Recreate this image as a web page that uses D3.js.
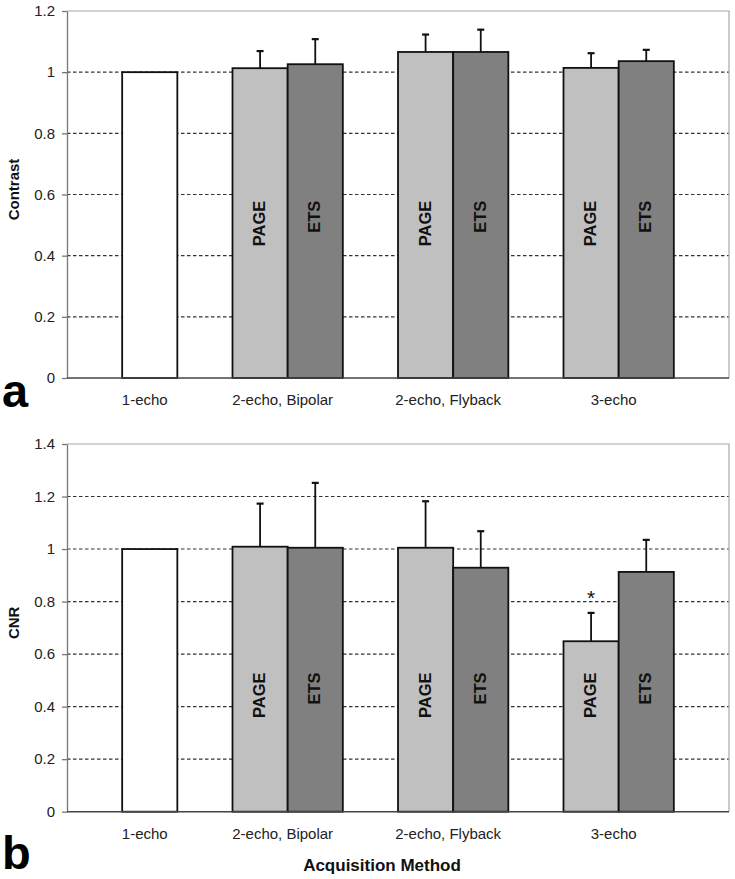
<!DOCTYPE html>
<html><head><meta charset="utf-8">
<script src="https://cdn.jsdelivr.net/npm/d3@7"></script>
<style>
html,body{margin:0;padding:0;background:#fff;}
svg{display:block;font-family:Arial,"Liberation Sans",sans-serif;}
</style></head>
<body>
<svg id="chart" width="735" height="879"></svg>
<script>
// ---- data ----
const categories = ["1-echo", "2-echo, Bipolar", "2-echo, Flyback", "3-echo"];
const methods = ["PAGE", "ETS"];
const refValue = 1.0; // 1-echo reference (both panels)
const contrastPAGE = [1.013, 1.066, 1.014];
const contrastPAGEErr = [0.056, 0.057, 0.048];
const contrastETS = [1.026, 1.066, 1.036];
const contrastETSErr = [0.082, 0.073, 0.037];
const cnrPAGE = [1.009, 1.005, 0.649];
const cnrPAGEErr = [0.164, 0.177, 0.108];
const cnrETS = [1.005, 0.929, 0.913];
const cnrETSErr = [0.247, 0.139, 0.122];
const cnrPAGESig = [false, false, true];
const contrastTicks = [0, 0.2, 0.4, 0.6, 0.8, 1, 1.2];
const cnrTicks = [0, 0.2, 0.4, 0.6, 0.8, 1, 1.2, 1.4];

const svg = d3.select("#chart");
const left = 67, right = 729;
const x = d3.scaleLinear().domain([0, 12]).range([left, right]);
const slotW = x(1) - x(0);
const colors = {ref: "#ffffff", PAGE: "#c0c0c0", ETS: "#808080"};
const fmt = d => String(+d.toFixed(1));

function panel(opts) {
  const {top, bottom, yMax, ticks, title, page, pageErr, ets, etsErr, sig, letter, letterY, labelAt} = opts;
  const y = d3.scaleLinear().domain([0, yMax]).range([bottom, top]);
  const g = svg.append("g");

  // grid lines
  g.selectAll(".grid").data(ticks.filter(t => t > 0 && t < yMax)).enter()
    .append("line").attr("x1", left).attr("x2", right)
    .attr("y1", d => y(d)).attr("y2", d => y(d))
    .attr("stroke", "#333").attr("stroke-width", 1.1).attr("stroke-dasharray", "3.5,2.5");
  // top/right frame
  g.append("path").attr("d", `M${left},${y(yMax)}H${right}V${bottom}`)
    .attr("fill", "none").attr("stroke", "#a8a8a8").attr("stroke-width", 1.2);

  // bars
  const bars = [{slot: 1, v: refValue, e: null, c: colors.ref}];
  page.forEach((v, i) => {
    bars.push({slot: 3 * (i + 1), v, e: pageErr[i], c: colors.PAGE, label: methods[0], sig: sig ? sig[i] : false});
    bars.push({slot: 3 * (i + 1) + 1, v: ets[i], e: etsErr[i], c: colors.ETS, label: methods[1]});
  });
  g.selectAll(".bar").data(bars).enter().append("rect")
    .attr("x", d => x(d.slot)).attr("width", slotW)
    .attr("y", d => y(d.v)).attr("height", d => y(0) - y(d.v))
    .attr("fill", d => d.c).attr("stroke", "#111").attr("stroke-width", 1.8);

  // error bars
  const eb = bars.filter(d => d.e != null);
  g.selectAll(".eline").data(eb).enter().append("line")
    .attr("x1", d => x(d.slot + 0.5)).attr("x2", d => x(d.slot + 0.5))
    .attr("y1", d => y(d.v)).attr("y2", d => y(d.v + d.e))
    .attr("stroke", "#111").attr("stroke-width", 1.8);
  g.selectAll(".ecap").data(eb).enter().append("line")
    .attr("x1", d => x(d.slot + 0.5) - 3.5).attr("x2", d => x(d.slot + 0.5) + 3.5)
    .attr("y1", d => y(d.v + d.e)).attr("y2", d => y(d.v + d.e))
    .attr("stroke", "#111").attr("stroke-width", 2.2);

  // in-bar labels
  g.selectAll(".blab").data(bars.filter(d => d.label)).enter().append("text")
    .attr("transform", d => `translate(${x(d.slot + 0.5) + 5},${y(labelAt)}) rotate(-90)`)
    .attr("text-anchor", "end").attr("font-weight", "bold").attr("font-size", 16.5)
    .attr("fill", "#111").text(d => d.label);

  // significance marker
  g.selectAll(".sig").data(bars.filter(d => d.sig)).enter().append("text")
    .attr("x", d => x(d.slot + 0.5)).attr("y", d => y(d.v + d.e) - 8)
    .attr("text-anchor", "middle").attr("font-size", 21).attr("fill", "#111").text("*");

  // y axis
  const ax = g.append("g").attr("transform", `translate(${left},0)`)
    .call(d3.axisLeft(y).tickValues(ticks).tickFormat(fmt).tickSize(5).tickSizeOuter(0).tickPadding(7));
  ax.select(".domain").attr("stroke", "#777").attr("stroke-width", 1.3);
  ax.selectAll(".tick line").attr("stroke", "#777").attr("stroke-width", 1.3);
  ax.selectAll(".tick text").attr("font-size", 15).attr("fill", "#222")
    .attr("font-family", "Arial, 'Liberation Sans', sans-serif");

  // x axis line
  g.append("line").attr("x1", left).attr("x2", right).attr("y1", y(0)).attr("y2", y(0))
    .attr("stroke", "#444").attr("stroke-width", 1.5);

  // category labels
  const centers = [x(1.5), x(4), x(7), x(10)];
  g.selectAll(".cat").data(categories).enter().append("text")
    .attr("x", (d, i) => centers[i] - 5).attr("y", y(0) + 27)
    .attr("text-anchor", "middle").attr("font-size", 15).attr("fill", "#222").text(d => d);

  // y title
  g.append("text").attr("transform", `translate(19,${(top + bottom) / 2 - 5}) rotate(-90)`)
    .attr("text-anchor", "middle").attr("font-weight", "bold").attr("font-size", 15)
    .attr("fill", "#111").text(title);

  // panel letter
  g.append("text").attr("x", 2).attr("y", letterY).attr("font-weight", "bold")
    .attr("font-size", 47).attr("fill", "#000").text(letter);
}

panel({top: 11, bottom: 378, yMax: 1.2, ticks: contrastTicks, title: "Contrast",
  page: contrastPAGE, pageErr: contrastPAGEErr, ets: contrastETS, etsErr: contrastETSErr,
  letter: "a", letterY: 407, labelAt: 0.58});
panel({top: 444, bottom: 811.7, yMax: 1.4, ticks: cnrTicks, title: "CNR",
  page: cnrPAGE, pageErr: cnrPAGEErr, ets: cnrETS, etsErr: cnrETSErr, sig: cnrPAGESig,
  letter: "b", letterY: 869, labelAt: 0.53});

svg.append("text").attr("x", 382).attr("y", 871).attr("text-anchor", "middle")
  .attr("font-weight", "bold").attr("font-size", 17).attr("fill", "#111").text("Acquisition Method");
</script>
</body></html>
